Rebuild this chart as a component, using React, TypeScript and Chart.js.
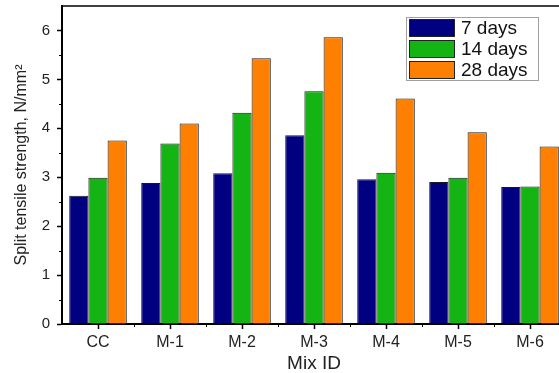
import { useEffect, useRef } from 'react';
import { Chart, registerables } from 'chart.js';

Chart.register(...registerables);

const categories = ['CC', 'M-1', 'M-2', 'M-3', 'M-4', 'M-5', 'M-6'];
const seriesLabels = ['7 days', '14 days', '28 days'];
const days7 = [2.62, 2.88, 3.08, 3.86, 2.96, 2.90, 2.80];
const days14 = [2.99, 3.69, 4.32, 4.76, 3.09, 2.99, 2.81];
const days28 = [3.75, 4.10, 5.43, 5.86, 4.61, 3.92, 3.63];
const seriesColors = ['#000080', '#14b414', '#ff8000'];
const yTicks = [0, 1, 2, 3, 4, 5, 6];
const yMinorTicks = [0.5, 1.5, 2.5, 3.5, 4.5, 5.5];
const yMax = 6.5;

const FONT = "'Liberation Sans', Arial, Helvetica, sans-serif";

const framePlugin = {
  id: 'frameAndMinor',
  afterDraw(chart: any) {
    const { ctx, chartArea } = chart;
    const x = chart.scales.x;
    const y = chart.scales.y;
    ctx.save();
    ctx.strokeStyle = '#000';
    ctx.lineWidth = 1.5;
    ctx.beginPath();
    ctx.moveTo(chartArea.left, chartArea.top);
    ctx.lineTo(chartArea.right, chartArea.top);
    ctx.moveTo(chartArea.right, chartArea.top);
    ctx.lineTo(chartArea.right, chartArea.bottom);
    ctx.stroke();
    ctx.lineWidth = 1;
    ctx.beginPath();
    yMinorTicks.forEach((v) => {
      const py = Math.round(y.getPixelForValue(v)) + 0.5;
      ctx.moveTo(chartArea.left - 3, py);
      ctx.lineTo(chartArea.left, py);
    });
    for (let i = 1; i < categories.length; i++) {
      const px = Math.round((x.getPixelForValue(i - 1) + x.getPixelForValue(i)) / 2) + 0.5;
      ctx.moveTo(px, chartArea.bottom);
      ctx.lineTo(px, chartArea.bottom + 3);
    }
    ctx.stroke();
    ctx.restore();
  },
};

const legendPlugin = {
  id: 'boxLegend',
  afterDraw(chart: any) {
    const { ctx, chartArea } = chart;
    const bx = chartArea.left + 344;
    const by = chartArea.top + 11;
    const bw = 132;
    const bh = 63;
    ctx.save();
    ctx.fillStyle = '#fff';
    ctx.fillRect(bx, by, bw, bh);
    ctx.strokeStyle = '#a0a0a0';
    ctx.lineWidth = 1;
    ctx.strokeRect(bx + 0.5, by + 0.5, bw, bh);
    ctx.font = `19px ${FONT}`;
    ctx.textBaseline = 'middle';
    ctx.textAlign = 'left';
    chart.data.datasets.forEach((ds: any, i: number) => {
      const sy = by + 2 + i * 21;
      ctx.fillStyle = ds.backgroundColor;
      ctx.fillRect(bx + 3, sy, 46, 18);
      ctx.strokeStyle = '#222';
      ctx.strokeRect(bx + 3.5, sy + 0.5, 45, 17);
      ctx.fillStyle = '#111';
      ctx.fillText(ds.label, bx + 55, sy + 10);
    });
    ctx.restore();
  },
};

export default function App() {
  const canvasRef = useRef<HTMLCanvasElement | null>(null);

  useEffect(() => {
    const canvas = canvasRef.current;
    if (!canvas) return;
    const data = [days7, days14, days28];
    const chart = new Chart(canvas, {
      type: 'bar',
      data: {
        labels: categories,
        datasets: seriesLabels.map((label, i) => ({
          label,
          data: data[i],
          backgroundColor: seriesColors[i],
          borderColor: '#1a1a1a',
          borderWidth: 1,
          categoryPercentage: 0.8,
          barPercentage: 1.0,
        })),
      },
      options: {
        responsive: false,
        animation: false,
        devicePixelRatio: 1,
        layout: { padding: { left: 0, top: 6, right: 14, bottom: 0 } },
        plugins: {
          legend: { display: false },
          tooltip: { enabled: false },
        },
        font: { family: FONT },
        scales: {
          x: {
            type: 'category',
            offset: true,
            grid: {
              offset: false,
              drawOnChartArea: false,
              drawTicks: true,
              tickLength: 5,
              tickColor: '#000',
              tickWidth: 1.5,
            },
            border: { display: true, color: '#000', width: 2 },
            ticks: {
              color: '#222',
              padding: 4,
              font: { family: FONT, size: 16 },
              maxRotation: 0,
            },
            title: {
              display: true,
              text: 'Mix ID',
              color: '#222',
              font: { family: FONT, size: 19, lineHeight: 1 },
              padding: { top: 0, bottom: 0 },
            },
            afterFit: (s: any) => {
              s.height = 49;
              s.paddingLeft = 0;
              s.paddingRight = 0;
            },
          },
          y: {
            type: 'linear',
            min: 0,
            max: yMax,
            afterBuildTicks: (s: any) => {
              s.ticks = yTicks.map((v) => ({ value: v }));
            },
            grid: {
              drawOnChartArea: false,
              drawTicks: true,
              tickLength: 5,
              tickColor: '#000',
              tickWidth: 1.5,
            },
            border: { display: true, color: '#000', width: 2 },
            ticks: {
              color: '#222',
              padding: 7,
              font: { family: FONT, size: 15 },
            },
            title: {
              display: true,
              text: 'Split tensile strength, N/mm²',
              color: '#222',
              font: { family: FONT, size: 16, lineHeight: 1.2 },
              padding: { top: 12, bottom: 0 },
            },
            afterFit: (s: any) => {
              s.width = 62;
              s.paddingTop = 0;
              s.paddingBottom = 0;
            },
          },
        },
      },
      plugins: [framePlugin, legendPlugin],
    } as any);
    return () => chart.destroy();
  }, []);

  return (
    <div
      style={{
        position: 'fixed',
        left: 0,
        top: 0,
        width: 559,
        height: 373,
        overflow: 'hidden',
        background: '#fff',
      }}
    >
      <canvas ref={canvasRef} width={580} height={373} style={{ display: 'block' }} />
    </div>
  );
}
